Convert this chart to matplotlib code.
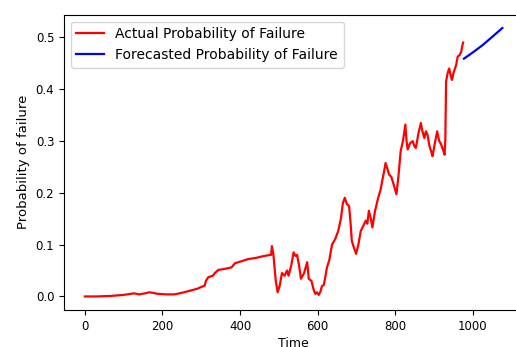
import matplotlib
matplotlib.use("Agg")
import matplotlib.pyplot as plt

# Actual probability of failure
time_actual = [0, 30, 67, 100, 127, 140, 155, 166, 175, 188, 210, 231, 250, 266,
               290, 309, 312, 318, 330, 335, 344, 360, 378, 387, 400, 421, 440,
               456, 470, 480, 482, 486, 492, 497, 502, 508, 515, 521, 525, 532,
               538, 543, 547, 552, 557, 565, 573, 577, 584, 590, 594, 598, 603,
               607, 611, 616, 624, 630, 637, 645, 653, 660, 665, 670, 675, 681,
               685, 688, 693, 699, 705, 711, 717, 724, 728, 732, 737, 741, 748,
               756, 762, 767, 771, 775, 780, 784, 790, 796, 803, 808, 814, 820,
               826, 829, 832, 838, 845, 849, 853, 860, 866, 870, 875, 879, 883,
               888, 893, 896, 902, 908, 913, 918, 923, 927, 929, 931, 935, 939,
               943, 946, 950, 957, 961, 966, 970, 972, 975]
prob_actual = [0.000, 0.000, 0.001, 0.003, 0.006, 0.004, 0.006, 0.008, 0.007, 0.005,
               0.004, 0.004, 0.007, 0.010, 0.015, 0.021, 0.030, 0.037, 0.040, 0.045,
               0.051, 0.053, 0.056, 0.064, 0.067, 0.072, 0.074, 0.077, 0.079, 0.080,
               0.097, 0.080, 0.030, 0.008, 0.020, 0.045, 0.040, 0.050, 0.040, 0.060,
               0.085, 0.078, 0.080, 0.060, 0.034, 0.045, 0.066, 0.034, 0.030, 0.012,
               0.005, 0.008, 0.003, 0.009, 0.020, 0.022, 0.056, 0.070, 0.100, 0.110,
               0.126, 0.150, 0.180, 0.190, 0.178, 0.174, 0.140, 0.107, 0.095, 0.082,
               0.100, 0.126, 0.135, 0.146, 0.140, 0.165, 0.150, 0.133, 0.165, 0.190,
               0.205, 0.225, 0.240, 0.257, 0.245, 0.235, 0.230, 0.215, 0.197, 0.230,
               0.280, 0.300, 0.331, 0.300, 0.283, 0.295, 0.299, 0.290, 0.286, 0.315,
               0.334, 0.318, 0.305, 0.318, 0.312, 0.290, 0.278, 0.270, 0.295, 0.318,
               0.300, 0.293, 0.283, 0.273, 0.300, 0.414, 0.430, 0.439, 0.425, 0.417,
               0.430, 0.446, 0.462, 0.465, 0.471, 0.480, 0.489]

# Forecast
time_forecast = [977, 1000, 1025, 1050, 1076]
prob_forecast = [0.458, 0.470, 0.484, 0.500, 0.517]

fig = plt.figure(figsize=(5.16, 3.47), dpi=100)
# right edge of the axes runs just past the picture, as in the reference
ax = fig.add_axes([0.124, 0.107, 0.89, 0.851])

ax.plot(time_actual, prob_actual, color='red', lw=1.6, label='Actual Probability of Failure')
ax.plot(time_forecast, prob_forecast, color='blue', lw=1.6, label='Forecasted Probability of Failure')

ax.set_xticks([0, 200, 400, 600, 800, 1000])
ax.set_yticks([0.0, 0.1, 0.2, 0.3, 0.4, 0.5])
ax.tick_params(labelsize=8.5)
ax.set_xlabel('Time', fontsize=9, labelpad=3)
ax.set_ylabel('Probability of failure', fontsize=9.5)
ax.legend(loc='upper left', fontsize=10)

fig.savefig('out.png', dpi=100)
